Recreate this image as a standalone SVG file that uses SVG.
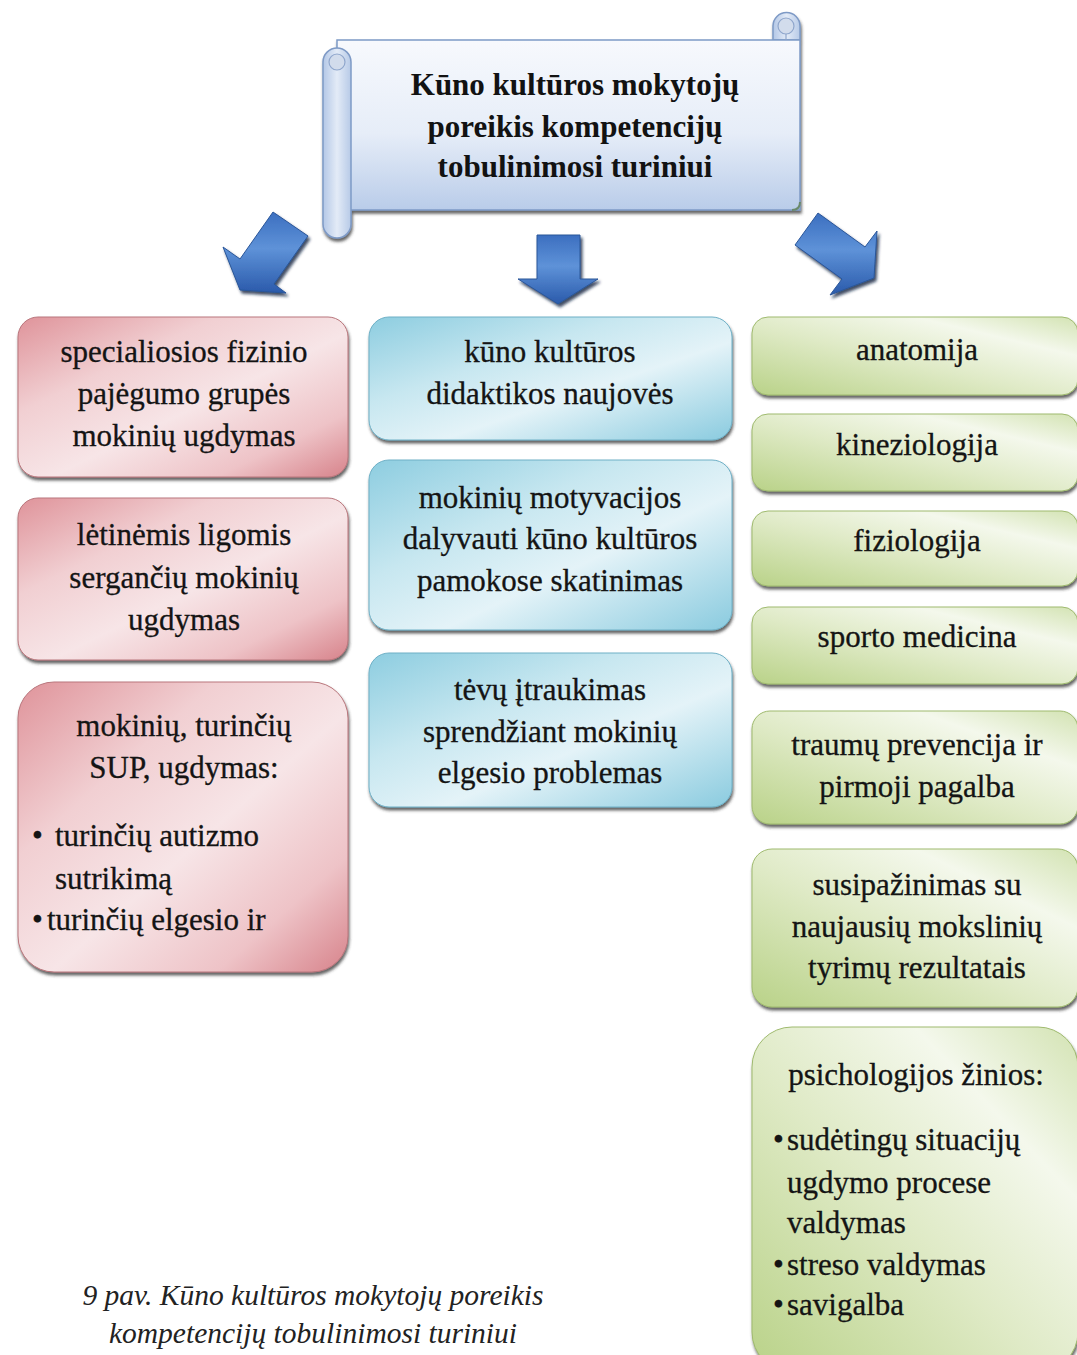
<svg xmlns="http://www.w3.org/2000/svg" width="1077" height="1355" viewBox="0 0 1077 1355">
  <defs>
    <linearGradient id="gScroll" x1="0" y1="0" x2="0" y2="1">
      <stop offset="0" stop-color="#f7f9fd"/>
      <stop offset="0.55" stop-color="#e6edf8"/>
      <stop offset="1" stop-color="#b9cce9"/>
    </linearGradient>
    <linearGradient id="gRoll" x1="0" y1="0" x2="1" y2="0">
      <stop offset="0" stop-color="#b3c7e6"/>
      <stop offset="0.5" stop-color="#e3ebf7"/>
      <stop offset="1" stop-color="#b7cae7"/>
    </linearGradient>
    <linearGradient id="gArrow" x1="0" y1="0" x2="0" y2="1">
      <stop offset="0" stop-color="#3c6fc0"/>
      <stop offset="0.45" stop-color="#5e92d8"/>
      <stop offset="1" stop-color="#2a5aab"/>
    </linearGradient>
    <linearGradient id="gRed" x1="0" y1="0" x2="1" y2="1">
      <stop offset="0" stop-color="#df939a"/>
      <stop offset="0.3" stop-color="#f1cfd2"/>
      <stop offset="0.55" stop-color="#f7e5e7"/>
      <stop offset="0.8" stop-color="#eec3c7"/>
      <stop offset="1" stop-color="#d7838b"/>
    </linearGradient>
    <linearGradient id="gBlue" x1="0" y1="0" x2="1" y2="1">
      <stop offset="0" stop-color="#8dcde0"/>
      <stop offset="0.35" stop-color="#c7e7f0"/>
      <stop offset="0.6" stop-color="#e4f3f8"/>
      <stop offset="1" stop-color="#8acbdf"/>
    </linearGradient>
    <linearGradient id="gGreen" x1="0" y1="1" x2="1" y2="0">
      <stop offset="0" stop-color="#b9d288"/>
      <stop offset="0.45" stop-color="#dfeac6"/>
      <stop offset="0.75" stop-color="#f4f8ec"/>
      <stop offset="1" stop-color="#d3e3b3"/>
    </linearGradient>
    <filter id="shadow" x="-10%" y="-10%" width="120%" height="130%">
      <feDropShadow dx="1" dy="3" stdDeviation="1.6" flood-color="#333" flood-opacity="0.75"/>
    </filter>
    <filter id="softShadow" x="-20%" y="-20%" width="140%" height="140%">
      <feDropShadow dx="2" dy="3" stdDeviation="1.5" flood-color="#10203f" flood-opacity="0.8"/>
    </filter>
  </defs>
  <style>
    .t { font-family: "Liberation Serif", "Times New Roman", serif; font-size: 31px; fill: #141414; stroke: #141414; stroke-width: 0.3; text-anchor: middle; }
    .tl { font-family: "Liberation Serif", "Times New Roman", serif; font-size: 31px; fill: #141414; stroke: #141414; stroke-width: 0.3; }
    .title { font-family: "Liberation Serif", "Times New Roman", serif; font-size: 31px; font-weight: bold; fill: #121212; text-anchor: middle; }
    .cap { font-family: "Liberation Serif", "Times New Roman", serif; font-size: 29.5px; font-style: italic; fill: #222; text-anchor: middle; }
    .red { fill: url(#gRed); stroke: #b9767c; stroke-width: 1; filter: url(#shadow); }
    .blue { fill: url(#gBlue); stroke: #6fb0c6; stroke-width: 1; filter: url(#shadow); }
    .green { fill: url(#gGreen); stroke: #9fba6e; stroke-width: 1; filter: url(#shadow); }
    .arrow { fill: url(#gArrow); stroke: #2a5699; stroke-width: 1; stroke-linejoin: round; filter: url(#softShadow); }
    .scroll { stroke: #7e9ac6; stroke-width: 1.5; }
  </style>

  <rect width="1077" height="1355" fill="#ffffff"/>

  <!-- title scroll -->
  <g id="title">
    <g filter="url(#shadow)">
      <path class="scroll" fill="url(#gRoll)" d="M773,40 V26 a13.5,13.5 0 0 1 27,0 V40 Z"/>
      <rect class="scroll" x="337" y="40" width="463" height="170" fill="url(#gScroll)"/>
      <rect class="scroll" x="323" y="48" width="28" height="190" rx="14" fill="url(#gRoll)"/>
    </g>
    <circle cx="337" cy="62" r="8" fill="#d2dcec" stroke="#8fa6cc" stroke-width="1.2"/>
    <circle cx="786" cy="26" r="8" fill="#d2dcec" stroke="#8fa6cc" stroke-width="1.2"/>
    <path d="M786,34 V40" stroke="#8fa6cc" stroke-width="1.2"/>
    <path d="M792,210 q8,0 8,-8" fill="none" stroke="#6a8a6a" stroke-width="2"/>
    <text class="title" x="575" y="95">Kūno kultūros mokytojų</text>
    <text class="title" x="575" y="137">poreikis kompetencijų</text>
    <text class="title" x="575" y="177">tobulinimosi turiniui</text>
  </g>

  <!-- block arrows -->
  <g id="connectors">
    <path class="arrow" d="M273,212 L308,236 L274,284 L286,293 L240,290 L223,247 L240,259 Z"/>
    <path class="arrow" d="M537,235 H580 V279 H598 L558,304 L518,279 H537 Z"/>
    <path class="arrow" d="M818,213 L865,247 L877,231 L874,278 L830,295 L842,279 L795,245 Z"/>
  </g>

  <!-- left column -->
  <g id="n-spec">
    <rect class="red" x="18" y="317" width="330" height="160" rx="20"/>
    <text class="t" x="184" y="362">specialiosios fizinio</text>
    <text class="t" x="184" y="404">pajėgumo grupės</text>
    <text class="t" x="184" y="446">mokinių ugdymas</text>
  </g>
  <g id="n-letin">
    <rect class="red" x="18" y="498" width="330" height="162" rx="20"/>
    <text class="t" x="184" y="545">lėtinėmis ligomis</text>
    <text class="t" x="184" y="588">sergančių mokinių</text>
    <text class="t" x="184" y="630">ugdymas</text>
  </g>
  <g id="n-sup">
    <rect class="red" x="18" y="682" width="330" height="290" rx="36"/>
    <text class="t" x="184" y="736">mokinių, turinčių</text>
    <text class="t" x="184" y="778">SUP, ugdymas:</text>
    <text class="tl" x="32" y="846">•</text>
    <text class="tl" x="55" y="846">turinčių autizmo</text>
    <text class="tl" x="55" y="889">sutrikimą</text>
    <text class="tl" x="32" y="930">•</text>
    <text class="tl" x="47" y="930">turinčių elgesio ir</text>
  </g>

  <!-- middle column -->
  <g id="n-didakt">
    <rect class="blue" x="369" y="317" width="363" height="123" rx="20"/>
    <text class="t" x="550" y="362">kūno kultūros</text>
    <text class="t" x="550" y="404">didaktikos naujovės</text>
  </g>
  <g id="n-motyv">
    <rect class="blue" x="369" y="460" width="363" height="170" rx="20"/>
    <text class="t" x="550" y="508">mokinių motyvacijos</text>
    <text class="t" x="550" y="549">dalyvauti kūno kultūros</text>
    <text class="t" x="550" y="591">pamokose skatinimas</text>
  </g>
  <g id="n-tevu">
    <rect class="blue" x="369" y="653" width="363" height="154" rx="20"/>
    <text class="t" x="550" y="700">tėvų įtraukimas</text>
    <text class="t" x="550" y="742">sprendžiant mokinių</text>
    <text class="t" x="550" y="783">elgesio problemas</text>
  </g>

  <!-- right column -->
  <g id="n-anat">
    <rect class="green" x="752" y="317" width="326" height="78" rx="16"/>
    <text class="t" x="917" y="360">anatomija</text>
  </g>
  <g id="n-kinez">
    <rect class="green" x="752" y="414" width="326" height="77" rx="16"/>
    <text class="t" x="917" y="455">kineziologija</text>
  </g>
  <g id="n-fiziol">
    <rect class="green" x="752" y="511" width="326" height="75" rx="16"/>
    <text class="t" x="917" y="551">fiziologija</text>
  </g>
  <g id="n-sport">
    <rect class="green" x="752" y="607" width="326" height="77" rx="16"/>
    <text class="t" x="917" y="647">sporto medicina</text>
  </g>
  <g id="n-traum">
    <rect class="green" x="752" y="711" width="326" height="113" rx="18"/>
    <text class="t" x="917" y="755">traumų prevencija ir</text>
    <text class="t" x="917" y="797">pirmoji pagalba</text>
  </g>
  <g id="n-susip">
    <rect class="green" x="752" y="849" width="326" height="158" rx="20"/>
    <text class="t" x="917" y="895">susipažinimas su</text>
    <text class="t" x="917" y="937">naujausių mokslinių</text>
    <text class="t" x="917" y="978">tyrimų rezultatais</text>
  </g>
  <g id="n-psich">
    <rect class="green" x="752" y="1027" width="326" height="345" rx="40"/>
    <text class="t" x="916" y="1085">psichologijos žinios:</text>
    <text class="tl" x="773" y="1150">•</text>
    <text class="tl" x="787" y="1150">sudėtingų situacijų</text>
    <text class="tl" x="787" y="1193">ugdymo procese</text>
    <text class="tl" x="787" y="1233">valdymas</text>
    <text class="tl" x="773" y="1275">•</text>
    <text class="tl" x="787" y="1275">streso valdymas</text>
    <text class="tl" x="773" y="1315">•</text>
    <text class="tl" x="787" y="1315">savigalba</text>
  </g>

  <!-- figure caption -->
  <g id="caption">
    <text class="cap" x="313" y="1305">9 pav. Kūno kultūros mokytojų poreikis</text>
    <text class="cap" x="313" y="1343">kompetencijų tobulinimosi turiniui</text>
  </g>
</svg>
